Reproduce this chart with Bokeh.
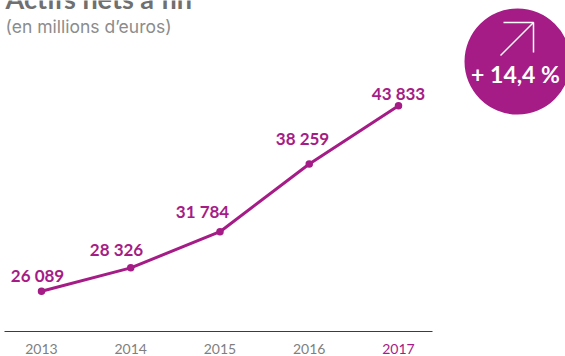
from bokeh.core.properties import value
from bokeh.embed import file_html
from bokeh.models import ColumnDataSource, FixedTicker, LinearAxis
from bokeh.plotting import figure
from bokeh.resources import INLINE

# Net assets at year end, in millions of euros
years = [2013, 2014, 2015, 2016, 2017]
net_assets = [26089, 28326, 31784, 38259, 43833]
value_labels = ["26 089", "28 326", "31 784", "38 259", "43 833"]
title_text = "Actifs nets à fin**"
subtitle_text = "(en millions d’euros)"
growth_text = "+ 14,4 %"

PURPLE = "#A51C87"
GREY = "#7F7F7F"
WIDTH, HEIGHT = 565, 356
PX_PER_YEAR = 89.25
UNITS_PER_PX = 95.66
X0 = 2013 - 41 / PX_PER_YEAR
Y0 = 19845


def fx(px):
    return X0 + px / PX_PER_YEAR


def fy(py):
    return Y0 + (HEIGHT - py) * UNITS_PER_PX


p = figure(
    width=WIDTH, height=HEIGHT, output_backend="svg", toolbar_location=None,
    x_range=(fx(0), fx(WIDTH)), y_range=(fy(HEIGHT), fy(0)),
    x_axis_type=None, y_axis_type=None, min_border=0,
    background_fill_color="white", border_fill_color="white", outline_line_color=None,
)
p.grid.visible = False

# Year axis: the last year is picked out in the series colour
past_axis = LinearAxis(
    ticker=FixedTicker(ticks=years[:-1]), fixed_location=fy(331), bounds=(fx(4), fx(432)),
    axis_line_color="#3C3C3C", axis_line_width=1.2,
    major_tick_line_color=None, minor_tick_line_color=None,
    major_label_standoff=6, major_label_text_font="Lato", major_label_text_font_size="14px",
    major_label_text_color=GREY,
)
last_axis = LinearAxis(
    ticker=FixedTicker(ticks=years[-1:]), fixed_location=fy(331),
    axis_line_color=None, major_tick_line_color=None, minor_tick_line_color=None,
    major_label_standoff=6, major_label_text_font="Lato", major_label_text_font_size="14px",
    major_label_text_color=PURPLE,
)
p.add_layout(past_axis, "below")
p.add_layout(last_axis, "below")

# Series
src = ColumnDataSource(dict(
    x=years, y=net_assets, label=value_labels,
    lx=[fx(37), fx(116), fx(202), fx(302), fx(398)],
    ly=[fy(275), fy(249), fy(211), fy(138), fy(93)],
))
p.line("x", "y", source=src, line_color=PURPLE, line_width=3)
p.scatter("x", "y", source=src, size=7.5, fill_color=PURPLE, line_color=None)
p.text("lx", "ly", text="label", source=src, text_align="center", text_baseline="middle",
       text_font=value("Lato"), text_font_style="bold", text_font_size="17px", text_color=PURPLE)

# Heading, cut by the top edge of the page
p.text([fx(5)], [fy(-2)], text=[title_text], text_align="left", text_baseline="middle",
       text_font=value("Lato"), text_font_style="bold", text_font_size="27px", text_color="#707070")
p.text([fx(5)], [fy(26)], text=[subtitle_text], text_align="left", text_baseline="middle",
       text_font=value("Inter"), text_font_size="17.5px", text_color="#8C8C8C")

# Growth badge
p.scatter([fx(517)], [fy(61)], size=106, fill_color=PURPLE, line_color=None)
p.line([fx(503), fx(533), fx(533)], [fy(22), fy(22), fy(52)], line_color="white", line_width=1.5)
p.line([fx(500), fx(533)], [fy(55), fy(22)], line_color="white", line_width=1.5)
p.text([fx(515)], [fy(73)], text=[growth_text], text_align="center", text_baseline="middle",
       text_font=value("Lato"), text_font_style="bold", text_font_size="23px", text_color="white")

open("out.html", "w").write(file_html(p, INLINE))
